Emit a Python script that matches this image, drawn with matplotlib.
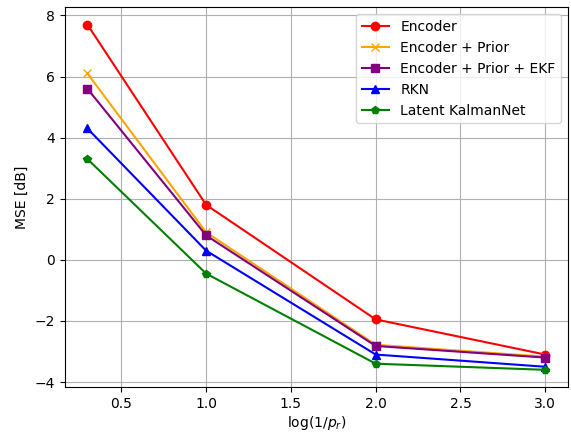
import matplotlib
matplotlib.use("Agg")
import matplotlib.pyplot as plt

x = [0.3, 1.0, 2.0, 3.0]
encoder = [7.7, 1.8, -1.95, -3.1]
encoder_prior = [6.1, 0.9, -2.78, -3.17]
encoder_prior_ekf = [5.6, 0.8, -2.82, -3.2]
rkn = [4.3, 0.3, -3.1, -3.5]
lkn = [3.3, -0.45, -3.4, -3.6]

fig = plt.figure(figsize=(5.71, 4.32), dpi=100)
ax = fig.add_subplot(111)
ax.plot(x, encoder, marker='o', color='red', label='Encoder')
ax.plot(x, encoder_prior, marker='x', color='orange', label='Encoder + Prior')
ax.plot(x, encoder_prior_ekf, marker='s', color='purple', label='Encoder + Prior + EKF')
ax.plot(x, rkn, marker='^', color='blue', label='RKN')
ax.plot(x, lkn, marker='p', color='green', label='Latent KalmanNet')
ax.set_xlabel(r'$\log(1/p_r)$', labelpad=2)
ax.set_ylabel('MSE [dB]')
ax.grid(True)
ax.legend(loc='upper right')
fig.subplots_adjust(left=0.113, right=0.995, top=0.983, bottom=0.104)
fig.savefig('out.png', dpi=100)
